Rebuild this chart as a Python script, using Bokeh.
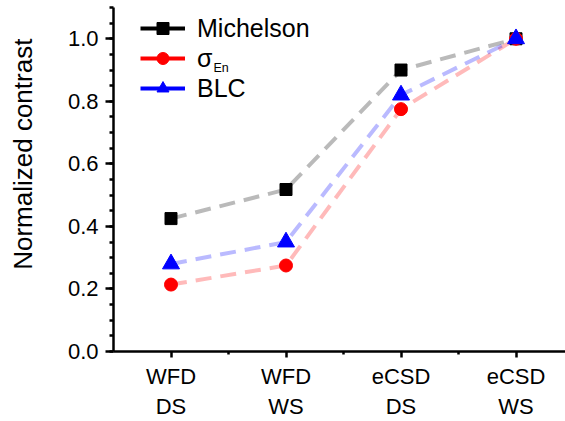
import math
from bokeh.plotting import figure
from bokeh.models import (Range1d, FixedTicker, SingleIntervalTicker, Legend,
                          LegendItem, Label, ColumnDataSource)
from bokeh.embed import file_html
from bokeh.resources import INLINE

# Samples along the x axis and their tick labels
categories = ["WFD\nDS", "WFD\nWS", "eCSD\nDS", "eCSD\nWS"]
positions = [1, 2, 3, 4]

# Normalized contrast for each metric
michelson = [0.425, 0.518, 0.900, 1.0]
sigma_en = [0.214, 0.275, 0.775, 1.0]
blc = [0.28, 0.35, 0.82, 1.0]

FONT = "Liberation Sans"

p = figure(frame_width=452, frame_height=344, output_backend="svg",
           toolbar_location=None,
           x_range=Range1d(0.5, 0.5 + 452 / 115), y_range=Range1d(0, 1.1),
           min_border_left=113, min_border_right=0, min_border_top=7,
           min_border_bottom=70)
p.outline_line_color = None
p.grid.visible = False
p.background_fill_color = "white"
p.border_fill_color = "white"

src = ColumnDataSource(dict(x=positions, m=michelson, s=sigma_en, b=blc))

series = [
    ("m", "black", "square", 12),
    ("s", "red", "circle", 13),
    ("b", "blue", "triangle", 17),
]

# Faint dashed connecting lines underneath the markers
for col, color, marker, size in series:
    p.line("x", col, source=src, line_color=color, line_alpha=0.27,
           line_width=4, line_dash="16 9")

for col, color, marker, size in series:
    p.scatter("x", col, source=src, marker=marker, size=size,
              fill_color=color, line_color=color)

# Legend entries: solid line with a marker in the middle
legend_items = []
for (col, color, marker, size), name in zip(series, ["Michelson", "σ", "BLC"]):
    empty = ColumnDataSource(dict(x=[float("nan")], y=[float("nan")]))
    lr = p.line("x", "y", source=empty, line_color=color, line_width=4)
    sr = p.scatter("x", "y", source=empty, marker=marker, fill_color=color,
                   line_color=color)
    legend_items.append(LegendItem(label=name, renderers=[lr, sr]))

legend = Legend(items=legend_items, location=(27, 248), padding=0, margin=0,
                glyph_width=45, glyph_height=30, label_height=30, spacing=0,
                label_standoff=12, label_text_font=FONT,
                label_text_font_size="25px", label_text_color="black",
                background_fill_alpha=0, border_line_color=None)
p.add_layout(legend, "center")

# Subscript for the sigma entry
p.add_layout(Label(x=213 - 113, y=351 - 74, x_units="screen", y_units="screen",
                   text="En", text_font=FONT, text_font_size="12.5px",
                   text_color="black", text_baseline="bottom"))

# Y axis; the title is padded at its start so it sits above the frame centre
yax = p.yaxis[0]
yax.ticker = SingleIntervalTicker(interval=0.2, num_minor_ticks=4)
yax.major_label_overrides = {0: "0.0", 0.2: "0.2", 0.4: "0.4", 0.6: "0.6",
                             0.8: "0.8", 1: "1.0"}
yax.axis_label = "\u00a0" * 7 + "Normalized contrast"
yax.axis_label_standoff = 27
yax.axis_label_text_font = FONT
yax.axis_label_text_font_size = "26px"
yax.axis_label_text_font_style = "normal"
yax.axis_label_text_color = "black"
yax.axis_line_width = 2.5
yax.major_tick_line_width = 2.5
yax.minor_tick_line_width = 2.5
yax.major_tick_out = 8
yax.major_tick_in = 0
yax.minor_tick_out = 4
yax.minor_tick_in = 0
yax.major_label_standoff = 7
yax.major_label_text_font = FONT
yax.major_label_text_font_size = "22px"
yax.major_label_text_color = "black"

# X axis
xax = p.xaxis[0]
xax.ticker = FixedTicker(ticks=positions, minor_ticks=[1.5, 2.5, 3.5])
xax.major_label_overrides = {pos: lab for pos, lab in zip(positions, categories)}
xax.axis_line_width = 2.5
xax.major_tick_line_width = 2.5
xax.minor_tick_line_width = 2.5
xax.major_tick_out = 6
xax.major_tick_in = 0
xax.minor_tick_out = 3
xax.minor_tick_in = 0
xax.major_label_standoff = 6
xax.major_label_text_font = FONT
xax.major_label_text_font_size = "22px"
xax.major_label_text_color = "black"

open("out.html", "w").write(file_html(p, INLINE))
